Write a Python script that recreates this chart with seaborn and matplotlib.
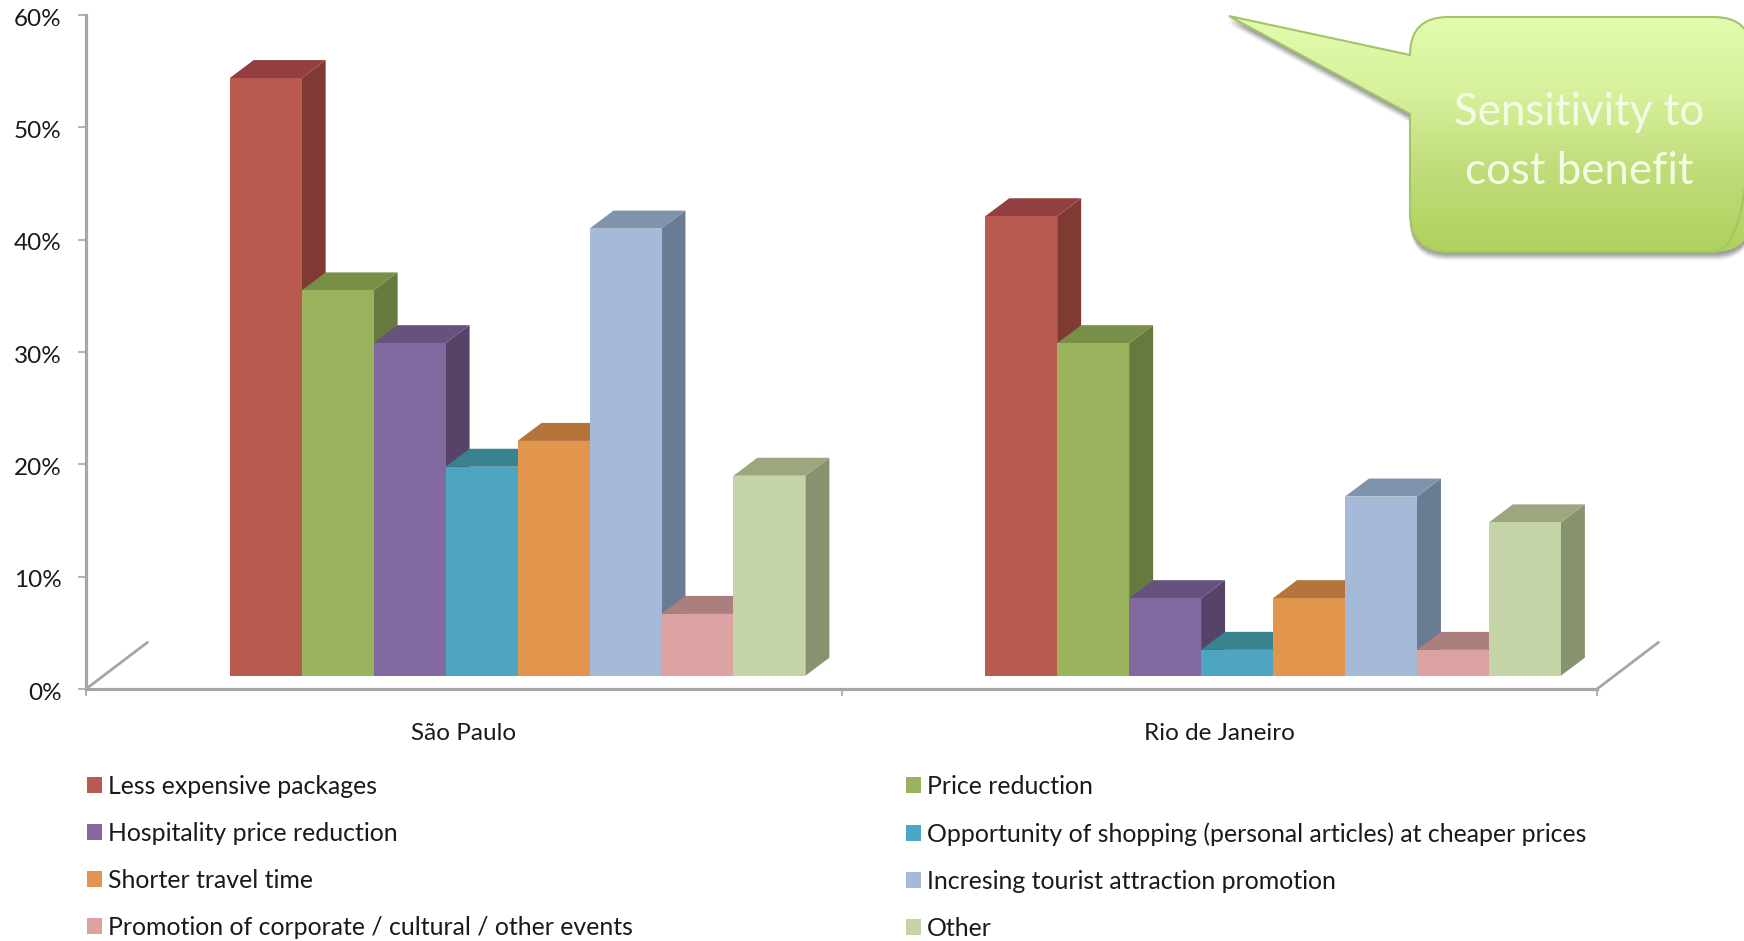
import numpy as np
import pandas as pd
import matplotlib
matplotlib.use("Agg")
import matplotlib.pyplot as plt
from matplotlib.patches import Polygon, PathPatch
from matplotlib.path import Path
from matplotlib.colors import LinearSegmentedColormap
from matplotlib.transforms import ScaledTranslation
import seaborn as sns

cities = ["São Paulo", "Rio de Janeiro"]
factors = ["Less expensive packages", "Price reduction", "Hospitality price reduction",
           "Opportunity of shopping (personal articles) at cheaper prices", "Shorter travel time",
           "Incresing tourist attraction promotion", "Promotion of corporate / cultural / other events", "Other"]
sao_paulo = [53.2, 34.3, 29.6, 18.6, 20.9, 39.8, 5.5, 17.8]
rio = [40.9, 29.6, 6.9, 2.3, 6.9, 15.95, 2.3, 13.65]
front_colors = ["#b85a50", "#9ab35c", "#8269a0", "#4ea5bf", "#e2954c", "#a5b9d8", "#dca1a1", "#c5d4a7"]
top_colors = ["#933f3f", "#788f47", "#66517f", "#38838f", "#b5753a", "#8093ad", "#aa7f7e", "#9da77f"]
side_colors = ["#7f3b33", "#667a3f", "#564468", "#2f6f7c", "#9a6230", "#6a7c94", "#8f6a6a", "#87936f"]
y_ticks = [0, 10, 20, 30, 40, 50, 60]
callout_text = "Sensitivity to\ncost benefit"

W, H = 1744, 941
FONT = "Lato"
sns.set_theme(style="white")
plt.rcParams["font.family"] = [FONT, "DejaVu Sans"]
TEXT = "#1a1a1a"
AXC = "#a6a6a6"

df = pd.DataFrame({
    "city": [c for c in cities for _ in factors],
    "factor": factors * 2,
    "value": sao_paulo + rio,
})

fig = plt.figure(figsize=(W / 100, H / 100), dpi=100, facecolor="white")
ax = fig.add_axes([86 / W, 1 - 689 / H, (1597 - 86) / W, (689 - 15) / H])

px_x = 755.5           # px per category
px_y = 11.233          # px per percentage point
base = 13.3 / px_y     # front edge of the bars sits above the front of the floor
dep_x, dep_y = 24 / px_x, 18 / px_y

sns.barplot(data=df, x="city", y="value", hue="factor", order=cities, hue_order=factors,
            palette=dict(zip(factors, front_colors)), saturation=1, width=0.762, gap=0,
            linewidth=0, ax=ax, errorbar=None)

handles, labels = ax.get_legend_handles_labels()
ax.get_legend().remove()

left = -0.5712
ax.set_xlim(left, left + 2)
ax.set_ylim(0, 60)

# 3-D faces, derived from the bars seaborn drew
bars = []
for i, cont in enumerate(ax.containers):
    for p in cont.patches:
        bars.append((p.get_x(), i, p))
for x0, i, p in sorted(bars, key=lambda b: b[0]):
    p.set_y(base)
    p.set_zorder(5)
    w, y0, y1 = p.get_width(), p.get_y(), p.get_y() + p.get_height()
    x1 = x0 + w
    ax.add_patch(Polygon([(x1, y0), (x1 + dep_x, y0 + dep_y), (x1 + dep_x, y1 + dep_y), (x1, y1)],
                         closed=True, fc=side_colors[i], ec="none", zorder=3))
    ax.add_patch(Polygon([(x0, y1), (x1, y1), (x1 + dep_x, y1 + dep_y), (x0 + dep_x, y1 + dep_y)],
                         closed=True, fc=top_colors[i], ec="none", zorder=3))

# floor edges
floor_x, floor_y = 61.5 / px_x, 46.7 / px_y
for xs in (left, left + 2):
    ax.plot([xs, xs + floor_x], [0, floor_y], color=AXC, lw=2, clip_on=False, zorder=2)

ax.set_xlabel("")
ax.set_ylabel("")
ax.set_yticks(y_ticks)
ax.set_yticklabels([f"{v}%" for v in y_ticks], fontsize=17.5, color=TEXT)
ax.set_xticks([left, left + 1, left + 2])
ax.set_xticklabels([])
ax.set_xticks([left + 0.5, left + 1.5], minor=True)
ax.set_xticklabels(cities, minor=True, fontsize=17.5, color=TEXT)
ax.tick_params(axis="y", length=6, width=1.2, color=AXC, pad=11.5, left=True)
ax.tick_params(axis="x", which="major", length=5, width=1.2, color=AXC, bottom=True)
ax.tick_params(axis="x", which="minor", length=0, pad=24.5)
shift = ScaledTranslation(0, -2 / 100, fig.dpi_scale_trans)
for t in ax.get_yticklabels():
    t.set_transform(t.get_transform() + shift)
for s in ("top", "right"):
    ax.spines[s].set_visible(False)
for s in ("left", "bottom"):
    ax.spines[s].set_color(AXC)
    ax.spines[s].set_linewidth(2.3)
ax.patch.set_alpha(0)

# legend: two columns filled row by row
FS = 17.9
fpx = FS * 100 / 72
def col_legend(idx, x_px):
    return fig.legend([handles[i] for i in idx], [labels[i] for i in idx], loc="upper left",
                      bbox_to_anchor=(x_px / W, 1 - 775 / H), bbox_transform=fig.transFigure,
                      frameon=False, fontsize=FS, borderpad=0, borderaxespad=0,
                      handlelength=15 / fpx, handleheight=15 / fpx, handletextpad=6 / fpx,
                      labelspacing=0.965, labelcolor=TEXT)
col_legend([0, 2, 4, 6], 87)
col_legend([1, 3, 5, 7], 906)

# callout overlay (page annotation, in pixels)
ov = fig.add_axes([0, 0, 1, 1], zorder=10)
ov.set_xlim(0, W)
ov.set_ylim(H, 0)
ov.axis("off")
ov.patch.set_alpha(0)

L, R, T, B, r = 1410, 1752, 17, 252, 38
tip = (1229, 16)
verts = [(L + r, T), (R - r, T), (R, T), (R, T + r), (R, B - r), (R, B), (R - r, B), (L + r, B), (L, B),
         (L, B - r), (L, 114), tip, (L, 55), (L, T + r), (L, T), (L + r, T), (L + r, T)]
codes = [Path.MOVETO, Path.LINETO, Path.CURVE3, Path.CURVE3, Path.LINETO, Path.CURVE3, Path.CURVE3,
         Path.LINETO, Path.CURVE3, Path.CURVE3, Path.LINETO, Path.LINETO, Path.LINETO, Path.LINETO,
         Path.CURVE3, Path.CURVE3, Path.CLOSEPOLY]
for off, a in ((9, 0.03), (8, 0.05), (7, 0.07), (6, 0.09), (5, 0.10), (4, 0.11), (3, 0.11), (2, 0.11)):
    sv = [(x, y + off) for x, y in verts]
    ov.add_patch(PathPatch(Path(sv, codes), fc="#404040", ec="none", alpha=a))
path = Path(verts, codes)
outline = PathPatch(path, fc="none", ec="#a3c468", lw=1.5)
ov.add_patch(outline)
cmap = LinearSegmentedColormap.from_list("g", ["#e2fcae", "#d6f09b", "#bfdc78", "#afd15d"])
im = ov.imshow(np.linspace(0, 1, 256)[:, None], cmap=cmap, extent=(1220, R, B, T), aspect="auto",
               interpolation="bilinear", zorder=1)
im.set_clip_path(PathPatch(path, transform=ov.transData))
outline.set_zorder(2)
ov.set_xlim(0, W)
ov.set_ylim(H, 0)
ov.text(1579, 142, callout_text, ha="center", va="center", color="#f6fbe6", fontsize=31.5,
        linespacing=1.54, zorder=3)

fig.savefig("out.png", dpi=100, facecolor="white")
